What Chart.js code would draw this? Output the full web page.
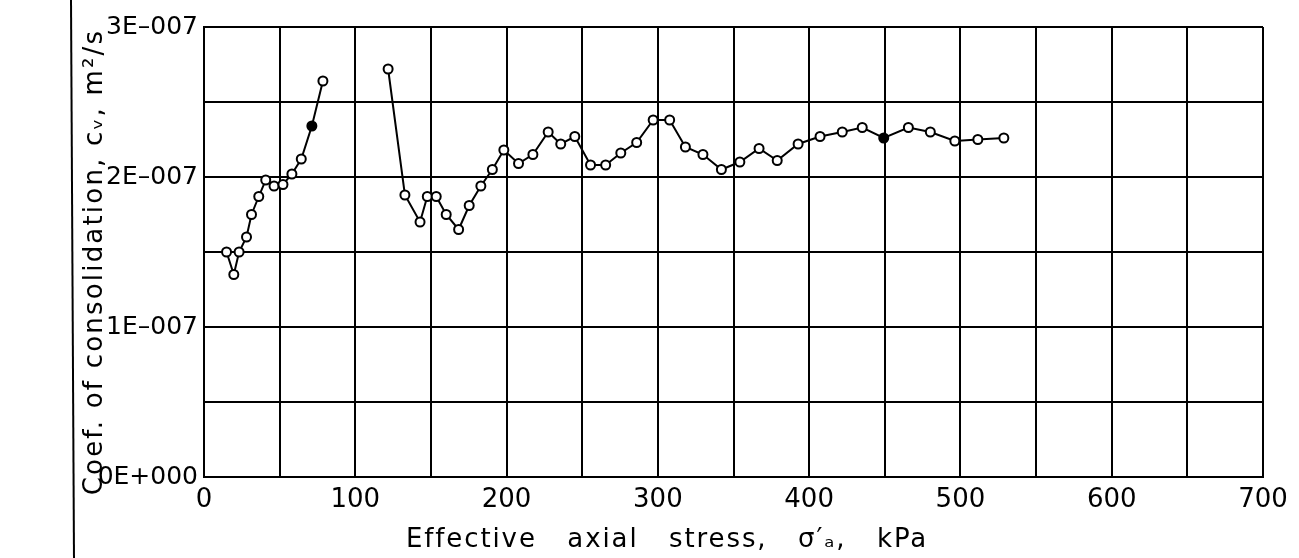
<!DOCTYPE html>
<html>
<head>
<meta charset="utf-8">
<script src="https://cdn.jsdelivr.net/npm/chart.js@4/dist/chart.umd.min.js"></script>
<style>
  html, body { margin: 0; padding: 0; background: #fff; }
  #wrap { width: 1299px; height: 558px; position: relative; }
</style>
</head>
<body>
<div id="wrap"><canvas id="c"></canvas></div>
<script>
// Effective axial stress (kPa) and coefficient of consolidation (m²/s)
const stressA = [14.9, 19.7, 23.2, 28.1, 31.4, 36.2, 40.8, 46.3, 52.2, 58.1, 64.3, 71.3, 78.6];
const cvA = [1.50e-7, 1.35e-7, 1.50e-7, 1.60e-7, 1.75e-7, 1.87e-7, 1.98e-7, 1.94e-7, 1.95e-7, 2.02e-7, 2.12e-7, 2.34e-7, 2.64e-7];

const stressB = [121.7, 132.8, 142.8, 147.6, 153.5, 160.1, 168.3, 175.3, 183.0, 190.6, 198.2, 207.9, 217.4,
  227.5, 235.8, 245.1, 255.5, 265.5, 275.5, 286.0, 296.9, 307.8, 318.2, 329.8, 342.0, 354.2, 366.9,
  378.9, 392.7, 407.2, 421.9, 435.1, 449.3, 465.6, 480.1, 496.3, 511.5, 528.7];
const cvB = [2.72e-7, 1.88e-7, 1.70e-7, 1.87e-7, 1.87e-7, 1.75e-7, 1.65e-7, 1.81e-7, 1.94e-7, 2.05e-7, 2.18e-7, 2.09e-7, 2.15e-7,
  2.30e-7, 2.22e-7, 2.27e-7, 2.08e-7, 2.08e-7, 2.16e-7, 2.23e-7, 2.38e-7, 2.38e-7, 2.20e-7, 2.15e-7, 2.05e-7, 2.10e-7, 2.19e-7,
  2.11e-7, 2.22e-7, 2.27e-7, 2.30e-7, 2.33e-7, 2.26e-7, 2.33e-7, 2.30e-7, 2.24e-7, 2.25e-7, 2.26e-7];

const filledA = [11];
const filledB = [32];

const xTickValues = [0, 50, 100, 150, 200, 250, 300, 350, 400, 450, 500, 550, 600, 650, 700];
const xTickLabels = ['0', '', '100', '', '200', '', '300', '', '400', '', '500', '', '600', '', '700'];
const yTickValues = [0, 0.5e-7, 1.0e-7, 1.5e-7, 2.0e-7, 2.5e-7, 3.0e-7];
const yTickLabels = ['0E+000', '', '1E\u2013007', '', '2E\u2013007', '', '3E\u2013007'];

const xTitle = 'Effective   axial   stress,   \u03C3\u2032\u2090,   kPa';
const yTitle = 'Coef. of consolidation, c\u1D65, m\u00B2/s';

const FONT = '"DejaVu Sans", "Liberation Sans", sans-serif';

function toPoints(xs, ys) { return xs.map((x, i) => ({ x: x, y: ys[i] })); }

const decor = {
  id: 'decor',
  afterDraw(chart) {
    const ctx = chart.ctx;
    ctx.save();
    // scan frame line at the far left
    ctx.strokeStyle = '#000';
    ctx.lineWidth = 2;
    ctx.beginPath();
    ctx.moveTo(71, 0);
    ctx.lineTo(74, 558);
    ctx.stroke();
    // axis titles
    ctx.fillStyle = '#000';
    ctx.font = '26px ' + FONT;
    ctx.textAlign = 'center';
    ctx.textBaseline = 'middle';
    ctx.letterSpacing = '1.9px';
    ctx.fillText(xTitle, 667, 540);
    ctx.translate(95, 262);
    ctx.rotate(-Math.PI / 2);
    ctx.letterSpacing = '2.2px';
    ctx.fillText(yTitle, 0, 0);
    ctx.restore();
  }
};

new Chart(document.getElementById('c'), {
  type: 'line',
  data: {
    datasets: [
      {
        data: toPoints(stressA, cvA),
        borderColor: '#000',
        borderWidth: 2,
        pointRadius: 4.5,
        pointBorderWidth: 2,
        pointBorderColor: '#000',
        pointBackgroundColor: (c) => filledA.includes(c.dataIndex) ? '#000' : '#fff',
        tension: 0
      },
      {
        data: toPoints(stressB, cvB),
        borderColor: '#000',
        borderWidth: 2,
        pointRadius: 4.5,
        pointBorderWidth: 2,
        pointBorderColor: '#000',
        pointBackgroundColor: (c) => filledB.includes(c.dataIndex) ? '#000' : '#fff',
        tension: 0
      }
    ]
  },
  options: {
    responsive: true,
    maintainAspectRatio: false,
    animation: false,
    layout: { padding: { top: 27, right: 36, left: 0, bottom: 0 } },
    plugins: { legend: { display: false }, tooltip: { enabled: false } },
    scales: {
      x: {
        type: 'linear',
        min: 0,
        max: 700,
        afterBuildTicks: (s) => { s.ticks = xTickValues.map(v => ({ value: v })); },
        afterFit: (s) => { s.height = 81; },
        grid: { color: '#000', lineWidth: 2, drawTicks: false },
        border: { color: '#000', width: 2 },
        ticks: {
          color: '#000',
          font: { family: FONT, size: 26 },
          padding: 8,
          maxRotation: 0,
          autoSkip: false,
          callback: (v, i) => xTickLabels[i]
        }
      },
      y: {
        type: 'linear',
        min: 0,
        max: 3e-7,
        afterBuildTicks: (s) => { s.ticks = yTickValues.map(v => ({ value: v })); },
        afterFit: (s) => { s.width = 204; },
        grid: { color: '#000', lineWidth: 2, drawTicks: false },
        border: { color: '#000', width: 2 },
        ticks: {
          color: '#000',
          font: { family: FONT, size: 25 },
          padding: 6,
          autoSkip: false,
          callback: (v, i) => yTickLabels[i]
        }
      }
    }
  },
  plugins: [decor]
});
</script>
</body>
</html>
